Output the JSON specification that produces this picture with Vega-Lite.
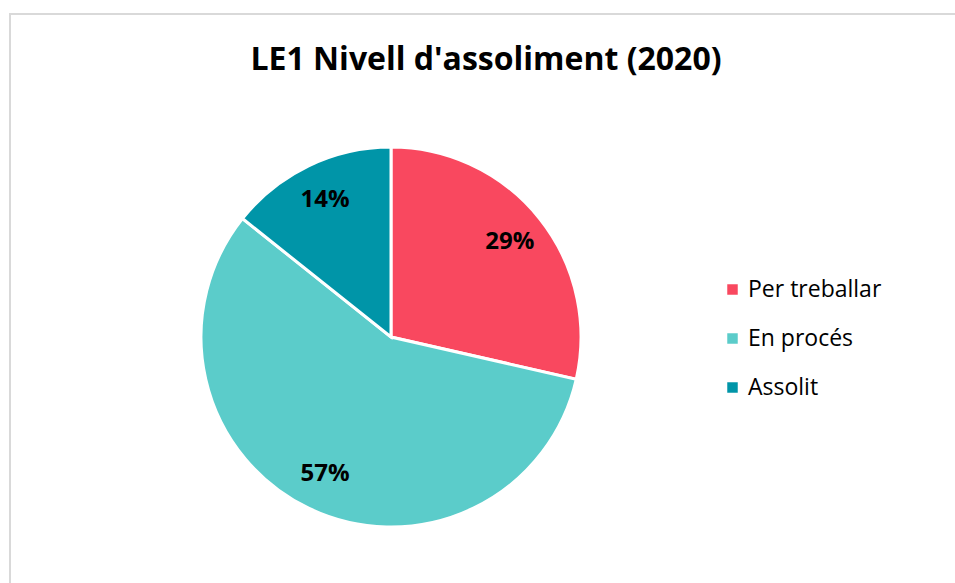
{
  "$schema": "https://vega.github.io/schema/vega-lite/v6.json",
  "autosize": "none",
  "padding": {"left": 10, "top": 14, "right": 0, "bottom": 0},
  "width": 960,
  "height": 580,
  "background": "white",
  "view": {"stroke": "#d9d9d9", "strokeWidth": 2},
  "title": {
    "text": "LE1 Nivell d'assoliment (2020)",
    "font": "Open Sans",
    "fontSize": 32,
    "fontWeight": "bold",
    "color": "#000000",
    "anchor": "middle",
    "baseline": "alphabetic",
    "offset": 0,
    "dx": -4,
    "dy": 88
  },
  "data": {
    "values": [
      {"category": "Per treballar", "value": 2, "label": "29%", "ord": 1},
      {"category": "En procés", "value": 4, "label": "57%", "ord": 2},
      {"category": "Assolit", "value": 1, "label": "14%", "ord": 3}
    ]
  },
  "encoding": {
    "theta": {"field": "value", "type": "quantitative", "stack": true},
    "order": {"field": "ord", "type": "quantitative"},
    "color": {
      "field": "category",
      "type": "nominal",
      "scale": {
        "domain": ["Per treballar", "En procés", "Assolit"],
        "range": ["#F9485F", "#5BCCCA", "#0095A8"]
      },
      "legend": {
        "title": null,
        "orient": "none",
        "legendX": 711,
        "legendY": 264,
        "symbolType": "square",
        "symbolSize": 110,
        "symbolStrokeWidth": 0,
        "labelFont": "Open Sans",
        "labelFontSize": 23,
        "labelColor": "#000000",
        "labelOffset": 4,
        "rowPadding": 25
      }
    }
  },
  "layer": [
    {
      "mark": {"type": "arc", "x": 381, "y": 323, "outerRadius": 190, "stroke": "white", "strokeWidth": 3}
    },
    {
      "mark": {"type": "text", "x": 381, "y": 323, "radius": 152, "font": "Open Sans", "fontSize": 24, "fontWeight": "bold"},
      "encoding": {
        "text": {"field": "label"},
        "color": {"value": "#000000"}
      }
    }
  ]
}
